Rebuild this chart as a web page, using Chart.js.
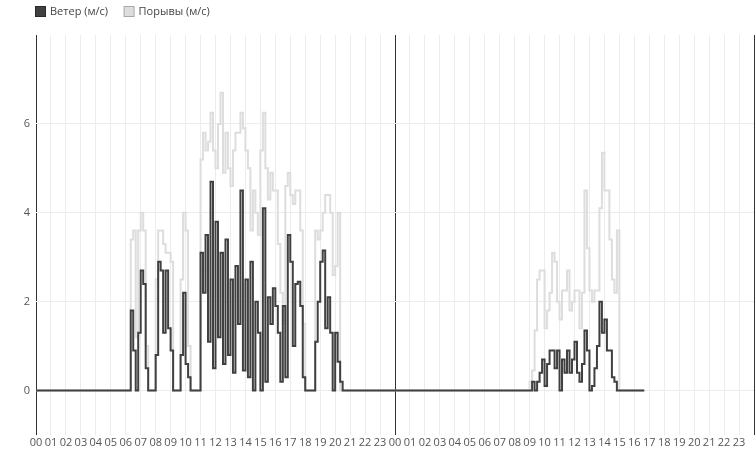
<!DOCTYPE html>
<html><head><meta charset="utf-8">
<script src="https://cdn.jsdelivr.net/npm/chart.js@4"></script>
<style>html,body{margin:0;padding:0;background:#fff}#wrap{width:755px;height:451px;position:relative}</style>
</head><body><div id="wrap"><canvas id="c"></canvas></div>
<script>
const hourLabels = ['00','01','02','03','04','05','06','07','08','09','10','11','12','13','14','15','16','17','18','19','20','21','22','23'];
const seriesNames = ['Ветер (м/с)', 'Порывы (м/с)'];
const yTicks = [0, 2, 4, 6];

// 10-minute samples, day 1 (00:00 - 23:50)
const windDay1 = [
  0,0,0,0,0,0,0,0,0,0,0,0,
  0,0,0,0,0,0,0,0,0,0,0,0,
  0,0,0,0,0,0,0,0,0,0,0,0,
  0,0,1.8,0.9,0,1.3,2.7,2.4,0.5,0,0,0,
  0.8,2.9,2.7,1.3,2.7,1.4,0.9,0,0,0,0.8,2.2,
  0.6,0.3,0,0,0,0,3.1,2.2,3.5,1.1,4.7,0.5,
  3.8,1.2,3.1,0.6,3.4,0.8,2.5,0.4,2.8,1.5,4.5,0.45,
  2.5,0.3,2.9,0,2.0,1.3,0,4.1,0.2,2.1,1.5,2.3,
  1.9,1.3,0.2,1.9,0.3,3.5,2.9,1.0,2.4,2.45,1.9,0.3,
  0,0,0,0,1.1,2.0,2.9,3.15,1.4,2.1,1.3,0,
  1.3,0.65,0.2,0,0,0,0,0,0,0,0,0,
  0,0,0,0,0,0,0,0,0,0,0,0
];
const gustDay1 = [
  0,0,0,0,0,0,0,0,0,0,0,0,
  0,0,0,0,0,0,0,0,0,0,0,0,
  0,0,0,0,0,0,0,0,0,0,0,0,
  0,0,3.4,3.6,1.2,3.6,4.0,3.6,1.0,0,0,0,
  2.5,3.6,3.6,3.3,3.1,3.1,2.9,0,0,0,2.5,4.0,
  3.6,1.0,0,0,0,0,5.2,5.8,5.4,5.6,6.25,5.4,
  5.0,6.0,6.7,4.9,5.8,5.0,4.6,5.4,5.8,5.8,6.25,5.9,
  5.4,5.0,3.6,4.5,4.0,3.5,5.4,6.25,5.0,4.3,4.9,4.5,
  4.5,3.3,2.2,1.5,4.6,4.9,4.4,4.2,4.5,4.5,3.6,1.5,
  0,0,0,0,3.6,3.4,3.6,4.0,4.4,4.4,4.0,2.6,
  2.8,4.0,0,0,0,0,0,0,0,0,0,0,
  0,0,0,0,0,0,0,0,0,0,0,0
];
// 10-minute samples, day 2 (00:00 - 16:40)
const windDay2 = [
  0,0,0,0,0,0,0,0,0,0,0,0,
  0,0,0,0,0,0,0,0,0,0,0,0,
  0,0,0,0,0,0,0,0,0,0,0,0,
  0,0,0,0,0,0,0,0,0,0,0,0,
  0,0,0,0,0,0,0,0.2,0,0.2,0.4,0.7,
  0.1,0.6,0.9,0.9,0.5,0.9,0,0.7,0.4,0.9,0.4,0.7,
  1.1,0.4,0.2,0.6,1.35,0.9,0,0.1,0.5,1.0,2.0,1.3,
  1.6,0.9,0.9,0.3,0.2,0,0,0,0,0,0,0,
  0,0,0,0,0
];
const gustDay2 = [
  0,0,0,0,0,0,0,0,0,0,0,0,
  0,0,0,0,0,0,0,0,0,0,0,0,
  0,0,0,0,0,0,0,0,0,0,0,0,
  0,0,0,0,0,0,0,0,0,0,0,0,
  0,0,0,0,0,0,0.2,0.45,1.35,2.5,2.7,2.7,
  1.4,1.8,2.2,3.1,2.9,2.0,1.6,2.25,2.25,2.7,1.8,2.0,
  2.25,2.25,1.4,2.2,4.5,3.2,2.25,2.0,2.25,2.25,4.1,5.35,
  4.5,4.5,3.4,2.5,2.2,3.6,0,0,0,0,0,0,
  0,0,0,0,0
];

const wind = windDay1.concat(windDay2);
const gust = gustDay1.concat(gustDay2);
const toPoints = arr => arr.map((v, i) => ({ x: i / 6, y: v }));

const FONT = '"Open Sans", "DejaVu Sans", sans-serif';
const colors = ['#404040', '#dddddd'];
const legendBorders = ['#2a2a2a', '#a8a8a8'];

const legendPlugin = {
  id: 'topLegend',
  afterDraw(chart) {
    const ctx = chart.ctx;
    ctx.save();
    ctx.font = '11px ' + FONT;
    ctx.textBaseline = 'middle';
    ctx.textAlign = 'left';
    let x = 35.5;
    const y = 6.5;
    seriesNames.forEach((name, i) => {
      ctx.fillStyle = colors[i];
      ctx.fillRect(x, y, 10, 10);
      ctx.strokeStyle = legendBorders[i];
      ctx.lineWidth = 1;
      ctx.strokeRect(x, y, 10, 10);
      ctx.fillStyle = '#444';
      ctx.fillText(name, x + 14.5, y + 5);
      x += 14.5 + ctx.measureText(name).width + 16;
    });
    ctx.restore();
  }
};

new Chart(document.getElementById('c'), {
  type: 'line',
  data: {
    datasets: [
      { label: seriesNames[0], data: toPoints(wind), borderColor: colors[0], backgroundColor: colors[0], borderWidth: 2, pointRadius: 0, stepped: 'before', fill: false },
      { label: seriesNames[1], data: toPoints(gust), borderColor: colors[1], backgroundColor: colors[1], borderWidth: 2, pointRadius: 0, stepped: 'before', fill: false }
    ]
  },
  options: {
    responsive: true,
    maintainAspectRatio: false,
    animation: false,
    layout: { padding: { top: 35, left: 0, right: 0, bottom: 0 } },
    plugins: { legend: { display: false }, tooltip: { enabled: false } },
    scales: {
      x: {
        type: 'linear', min: 0, max: 48,
        afterFit: s => { s.height = 16; },
        border: { display: false },
        grid: { drawTicks: false, color: c => (c.tick && c.tick.value % 24 === 0) ? '#333' : '#ececec', lineWidth: 1 },
        ticks: {
          stepSize: 1, autoSkip: false, maxRotation: 0, minRotation: 0, padding: 1,
          color: '#555', font: { family: FONT, size: 11 },
          callback: v => (v >= 48 ? '' : hourLabels[v % 24])
        }
      },
      y: {
        min: -1, max: 8,
        afterFit: s => { s.width = 36; },
        afterBuildTicks: s => { s.ticks = yTicks.map(v => ({ value: v })); },
        border: { display: false },
        grid: { drawTicks: false, color: '#ececec', lineWidth: 1 },
        ticks: { padding: 6, color: '#555', font: { family: FONT, size: 11 } }
      }
    }
  },
  plugins: [legendPlugin]
});
</script>
</body></html>
